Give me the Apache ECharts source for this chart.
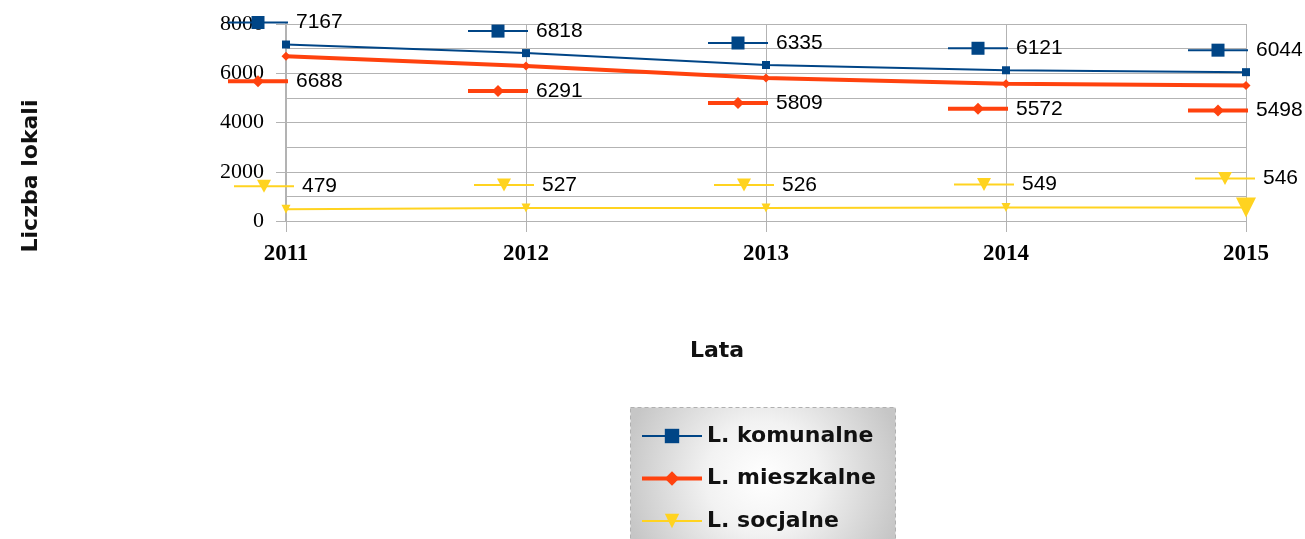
<!DOCTYPE html>
<html>
<head>
<meta charset="utf-8">
<script src="https://cdn.jsdelivr.net/npm/echarts@6/dist/echarts.min.js"></script>
<style>
  html, body { margin: 0; padding: 0; background: #fff; }
  #chart { width: 1305px; height: 539px; }
</style>
</head>
<body>
<div id="chart"></div>
<script>
const years = ["2011", "2012", "2013", "2014", "2015"];
const komunalne = [7167, 6818, 6335, 6121, 6044];
const mieszkalne = [6688, 6291, 5809, 5572, 5498];
const socjalne = [479, 527, 526, 549, 546];

const BLUE = "#004586";
const RED = "#ff420e";
const YELLOW = "#ffd320";
const GRID = "#b3b3b3";

// little legend-like key drawn in front of each value label
const keyImage = (color, lw, shape) => {
  let sym = "";
  if (shape === "rect") sym = `<rect x="23.5" y="1.5" width="13" height="13" fill="${color}"/>`;
  if (shape === "diamond") sym = `<polygon points="30,2 36,8 30,14 24,8" fill="${color}"/>`;
  if (shape === "tri") sym = `<polygon points="23,1.5 37,1.5 30,14.5" fill="${color}"/>`;
  const svg = `<svg xmlns="http://www.w3.org/2000/svg" width="60" height="16">` +
    `<line x1="0" y1="8" x2="60" y2="8" stroke="${color}" stroke-width="${lw}"/>${sym}</svg>`;
  return "data:image/svg+xml;charset=utf-8," + encodeURIComponent(svg);
};

const makeLabel = (color, lw, shape, offset) => ({
  show: true,
  position: "inside",
  align: "left",
  verticalAlign: "middle",
  offset: offset,
  formatter: (p) => "{k|}{v|" + p.value + "}",
  rich: {
    k: { width: 60, height: 16, backgroundColor: { image: keyImage(color, lw, shape) } },
    v: { fontSize: 21, fontFamily: "Liberation Sans", color: "#000", padding: [0, 0, 0, 8] }
  }
});

const chart = echarts.init(document.getElementById("chart"));

const options = {
  animation: false,
  graphic: [
    {
      type: "rect",
      left: 630,
      top: 407,
      z: -1,
      shape: { width: 265, height: 140 },
      style: {
        fill: new echarts.graphic.RadialGradient(0.5, 0.5, 1.0, [
          { offset: 0, color: "#ffffff" },
          { offset: 0.4, color: "#f2f2f2" },
          { offset: 1, color: "#c6c6c6" }
        ]),
        stroke: "#b0b0b0",
        lineWidth: 1,
        lineDash: [4, 3]
      }
    }
  ],
  grid: { left: 286, right: 59, top: 24, bottom: 318, containLabel: false },
  legend: {
    orient: "vertical",
    left: 635,
    top: 420,
    itemWidth: 60,
    itemHeight: 18,
    itemGap: 20.5,
    textStyle: { fontSize: 22, fontWeight: "bold", fontFamily: "DejaVu Sans", color: "#111" },
    data: [
      { name: "L. komunalne", lineStyle: { width: 2 } },
      { name: "L. mieszkalne", lineStyle: { width: 4 } },
      { name: "L. socjalne", lineStyle: { width: 2 } }
    ]
  },
  xAxis: {
    type: "category",
    data: years,
    boundaryGap: false,
    name: "Lata",
    nameLocation: "middle",
    nameGap: 119,
    nameTextStyle: { fontSize: 22, fontWeight: "bold", fontFamily: "DejaVu Sans", color: "#111", padding: [0, 98, 0, 0] },
    axisLine: { lineStyle: { color: GRID } },
    axisTick: { show: true, length: 11, lineStyle: { color: GRID } },
    splitLine: { show: true, lineStyle: { color: GRID } },
    axisLabel: { fontSize: 23, fontWeight: "bold", fontFamily: "Liberation Serif", color: "#000", margin: 22 }
  },
  yAxis: {
    type: "value",
    min: 0,
    max: 8000,
    interval: 2000,
    name: "Liczba lokali",
    nameLocation: "middle",
    nameRotate: 90,
    nameGap: 244,
    nameTextStyle: { fontSize: 22, fontWeight: "bold", fontFamily: "DejaVu Sans", color: "#111", padding: [0, 107, 0, 0] },
    axisLine: { show: true, lineStyle: { color: GRID, width: 2 } },
    axisTick: { show: true, length: 10, lineStyle: { color: GRID } },
    splitLine: { show: true, lineStyle: { color: GRID } },
    minorTick: { show: false, splitNumber: 2 },
    minorSplitLine: { show: true, lineStyle: { color: GRID } },
    axisLabel: { fontSize: 22, fontFamily: "Liberation Serif", color: "#000", margin: 22, formatter: (v) => String(v) }
  },
  series: [
    {
      name: "L. komunalne",
      type: "line",
      data: komunalne,
      symbol: "rect",
      symbolSize: 8,
      showAllSymbol: true,
      color: BLUE,
      lineStyle: { width: 2, color: BLUE },
      label: makeLabel(BLUE, 2, "rect", [-58, -22]),
      z: 3
    },
    {
      name: "L. mieszkalne",
      type: "line",
      data: mieszkalne,
      symbol: "diamond",
      symbolSize: 9,
      showAllSymbol: true,
      color: RED,
      lineStyle: { width: 4, color: RED },
      label: makeLabel(RED, 4, "diamond", [-58, 25]),
      z: 2
    },
    {
      name: "L. socjalne",
      type: "line",
      data: socjalne.map((v, i) => i === socjalne.length - 1
        ? { value: v, symbolSize: 20, label: { offset: [-51, -29] } }
        : v),
      symbol: "triangle",
      symbolRotate: 180,
      symbolSize: 9,
      showAllSymbol: true,
      color: YELLOW,
      lineStyle: { width: 2, color: YELLOW },
      label: makeLabel(YELLOW, 2, "tri", [-52, -23]),
      z: 2
    }
  ]
};

chart.setOption(options);
</script>
</body>
</html>
